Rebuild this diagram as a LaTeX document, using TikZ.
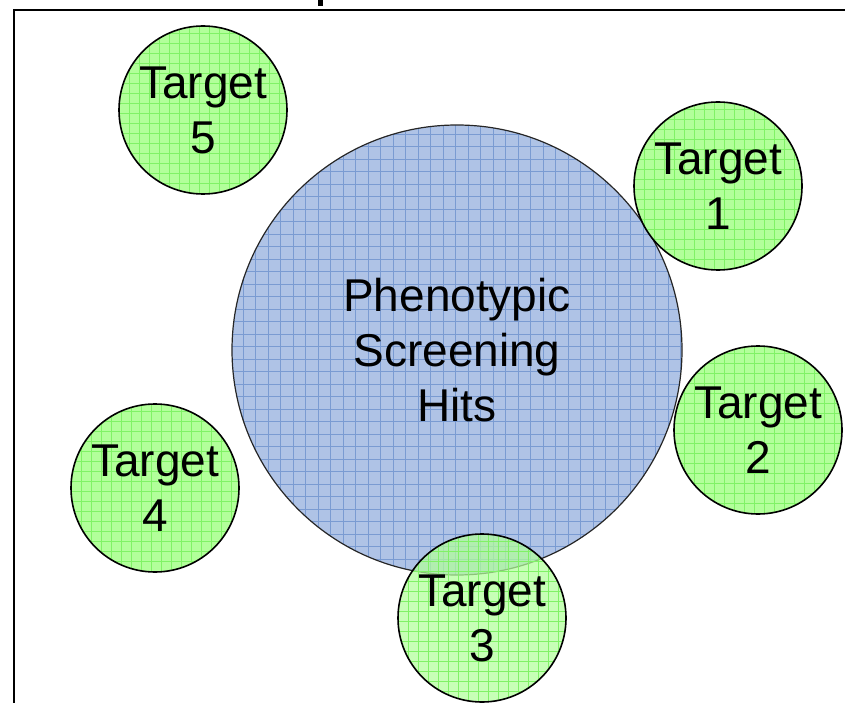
\documentclass[tikz,border=0pt]{standalone}
\usepackage{fontspec}
\setmainfont{Liberation Sans}
\definecolor{tgfill}{HTML}{B2FF9A}
\definecolor{tggrid}{HTML}{80F266}
\definecolor{bigfill}{HTML}{AFC3E6}
\definecolor{biggrid}{HTML}{7A9BD2}
\tikzset{
  lbl/.style={font=\fontsize{46}{55}\selectfont, align=center, text=black},
  target/.style={circle, draw=black, line width=1.6pt, fill=tgfill, inner sep=0pt,
    minimum size=168pt, lbl,
    path picture={\draw[tggrid, line width=0.45pt] (path picture bounding box.south west) grid[step=10pt] (path picture bounding box.north east);}},
  bigc/.style={circle, draw=black!85, line width=1.2pt, fill=bigfill, inner sep=0pt,
    minimum size=450pt, lbl,
    path picture={\draw[biggrid, line width=0.6pt] (path picture bounding box.south west) grid[step=12.5pt] (path picture bounding box.north east);}},
  frameline/.style={draw=black, line width=2pt}
}
\begin{document}
\begin{tikzpicture}[x=1pt, y=-1pt]
\useasboundingbox (0,0) rectangle (845,703);
\coordinate (fa) at (14,710);
\coordinate (fb) at (14,10);
\coordinate (fc) at (850,10);
\draw[frameline] (fa) -- (fb) -- (fc);
\fill[black] (318,-1) rectangle (323,6);
\node[bigc] (big) at (457,350) {Phenotypic\\Screening\\Hits};
\node[target] (t5) at (203,110) {Target\\5};
\node[target] (t1) at (718,186) {Target\\1};
\node[target] (t2) at (758,430) {Target\\2};
\node[target] (t4) at (155,488) {Target\\4};
\node[target, fill opacity=0.72, text opacity=1, draw opacity=1] (t3) at (482,618) {Target\\3};
\end{tikzpicture}
\end{document}
